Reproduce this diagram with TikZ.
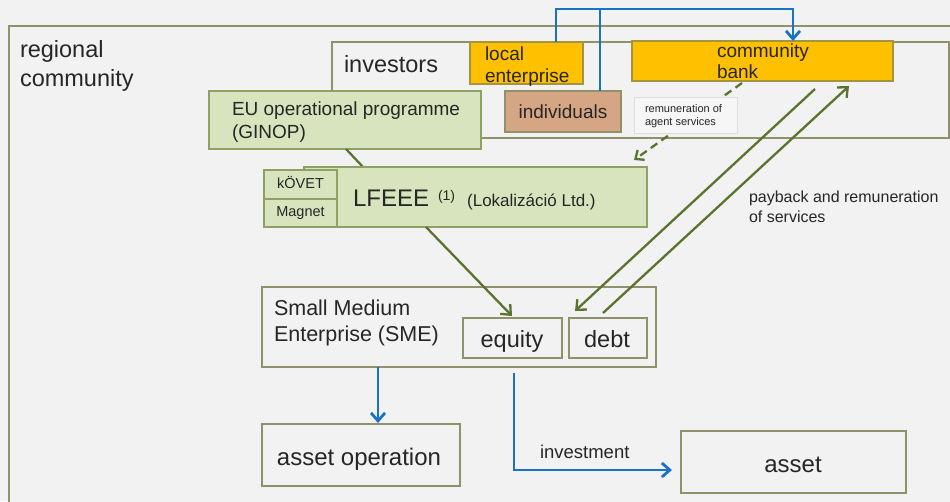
\documentclass[tikz,border=0pt]{standalone}
\usepackage{fontspec}
\setmainfont{Liberation Sans}
\usetikzlibrary{arrows.meta,calc}
\definecolor{bgc}{HTML}{F2F2F2}
\definecolor{boxc}{HTML}{8F916B}
\definecolor{greenf}{HTML}{D7E4BD}
\definecolor{greenb}{HTML}{8CA163}
\definecolor{orangef}{HTML}{FFC000}
\definecolor{orangeb}{HTML}{A3953F}
\definecolor{tanf}{HTML}{D5A584}
\definecolor{bluec}{HTML}{1A72C6}
\definecolor{olivec}{HTML}{5A7430}
\definecolor{txtc}{HTML}{262626}
\definecolor{remb}{HTML}{DEDEDE}
\definecolor{remf}{HTML}{F6F6F6}
\newcommand{\fsz}[2]{\fontsize{#1}{#2}\selectfont}
\begin{document}
\begin{tikzpicture}[x=1pt,y=-1pt,
  frame/.style={draw=boxc, line width=1.8pt, fill=bgc, inner sep=0pt, outer sep=0pt, anchor=north west},
  gbox/.style={frame, draw=greenb, fill=greenf},
  obox/.style={frame, draw=orangeb, fill=orangef},
  tbox/.style={frame, fill=tanf},
  rbox/.style={frame, draw=remb, fill=remf, line width=1pt},
  lbl/.style={text=txtc, inner sep=0pt, outer sep=0pt, align=left},
  oline/.style={draw=olivec, line width=2.3pt},
  oarrow/.style={oline, -{Straight Barb[length=8pt,width=14pt]}},
  bline/.style={draw=bluec, line width=2.8pt},
  barrow/.style={bline, -{Straight Barb[length=8pt,width=14pt]}}
]
\fill[bgc] (0,0) rectangle (950,501);
\useasboundingbox (0,0) rectangle (950,501);
\clip (0,0) rectangle (950,501);

% regional community
\node[frame, minimum width=1000pt, minimum height=520pt] (reg) at (9,26) {};
\node[lbl, anchor=north west, font=\fsz{23.5}{29}] (regt) at (20,40) {regional\\community};

% investors
\node[frame, minimum width=617pt, minimum height=96pt] (inv) at (332,42) {};
\node[lbl, anchor=base west, font=\fsz{23.5}{28}] (invt) at (344,72) {investors};

\node[obox, minimum width=113pt, minimum height=42pt] (le) at (470,42) {};
\node[lbl, anchor=north west, font=\fsz{19}{22}] (let) at (485,46.3) {local\\enterprise};

\node[obox, minimum width=261pt, minimum height=40pt] (bank) at (632,41) {};
\node[lbl, anchor=north west, font=\fsz{19}{21}] (bankt) at (717,43.3) {community\\bank};

\node[tbox, minimum width=116pt, minimum height=41pt] (ind) at (505,91) {};
\node[lbl, anchor=base, font=\fsz{19}{22}] (indt) at (563,118) {individuals};

% blue flows to community bank
\coordinate (bt) at (0,9);
\coordinate (leT) at ([xshift=86pt]le.north west);
\coordinate (indT) at ([xshift=95pt]ind.north west);
\coordinate (bankT) at ([xshift=161pt]bank.north west);
\draw[barrow] (leT) -- (leT |- bt) -| (bankT);
\draw[bline] (indT) -- (indT |- bt);

% dashed agent remuneration
\coordinate (agentT) at (634,160);
\draw[oline, dash pattern=on 8pt off 5pt, -{Straight Barb[length=7pt,width=12pt]}]
  ([xshift=110pt,yshift=-2pt]bank.south west) -- (agentT);
\node[rbox, minimum width=103pt, minimum height=36pt] (rem) at (634,97) {};
\node[lbl, anchor=north west, font=\fsz{11}{13}] (remt) at (645,105) {remuneration of\\agent services};

% EU programme
\node[gbox, minimum width=272pt, minimum height=58pt] (eu) at (209,91) {};
\node[lbl, anchor=north west, font=\fsz{19}{23}] (eut) at (232,101.3) {EU operational programme\\(GINOP)};

% LFEEE
\coordinate (lfA) at (363,167);
\draw[oline] ([xshift=137pt]eu.south west) -- (lfA);
\node[gbox, minimum width=343pt, minimum height=60pt] (lf) at (304,167) {};
\node[gbox, minimum width=73pt, minimum height=29pt] (kovet) at (264,170) {};
\node[gbox, minimum width=73pt, minimum height=28pt] (magnet) at (264,199) {};
\node[lbl, anchor=base, font=\fsz{14.5}{17}] (kovett) at (300.5,188) {kÖVET};
\node[lbl, anchor=base, font=\fsz{14.5}{17}] (magnett) at (300.5,216) {Magnet};
\node[lbl, anchor=base west] (lft) at (353,206)
  {{\fsz{24}{28}LFEEE}\hspace{9pt}\raisebox{6pt}{\fsz{14}{16}(1)}\hspace{12pt}{\fsz{17}{20}(Lokalizáció Ltd.)}};

% payback label
\node[lbl, anchor=north west, font=\fsz{16}{20}] (payt) at (749,190.5) {payback and remuneration\\of services};

% SME
\node[frame, minimum width=394pt, minimum height=80pt] (sme) at (262,287) {};
\node[lbl, anchor=north west, font=\fsz{21.5}{26}] (smet) at (274,299.5) {Small Medium\\Enterprise (SME)};
\node[frame, minimum width=99pt, minimum height=40pt] (eq) at (463,318) {};
\node[frame, minimum width=78pt, minimum height=40pt] (debt) at (569,318) {};
\node[lbl, anchor=base, font=\fsz{23.5}{28}] (eqt) at (512,347) {equity};
\node[lbl, anchor=base, font=\fsz{23.5}{28}] (debtt) at (607,347) {debt};

% olive flows
\draw[oarrow] ([xshift=122pt]lf.south west) -- ([xshift=49pt,yshift=2pt]eq.north west);
\draw[oarrow] ([xshift=183pt,yshift=-8pt]bank.south west) -- ([xshift=6pt,yshift=7pt]debt.north west);
\draw[oarrow] ([xshift=34pt,yshift=5pt]debt.north west) -- ([xshift=217pt,yshift=-5pt]bank.south west);

% bottom
\node[frame, minimum width=198pt, minimum height=62pt] (aop) at (262,424) {};
\node[lbl, anchor=base, font=\fsz{24}{28}] (aopt) at (359,465) {asset operation};
\node[frame, minimum width=225pt, minimum height=62pt] (asset) at (681,431) {};
\node[lbl, anchor=base, font=\fsz{24}{28}] (assett) at (793,472) {asset};

\draw[barrow] ([xshift=116pt]sme.south west) -- ([xshift=116pt,yshift=1pt]aop.north west);
\draw[barrow] ([xshift=252pt,yshift=-6pt]sme.south west) |- ([xshift=-9pt,yshift=-39pt]asset.north west);
\node[lbl, anchor=base west, font=\fsz{18.5}{22}] (invest) at (540,458) {investment};
\end{tikzpicture}
\end{document}
